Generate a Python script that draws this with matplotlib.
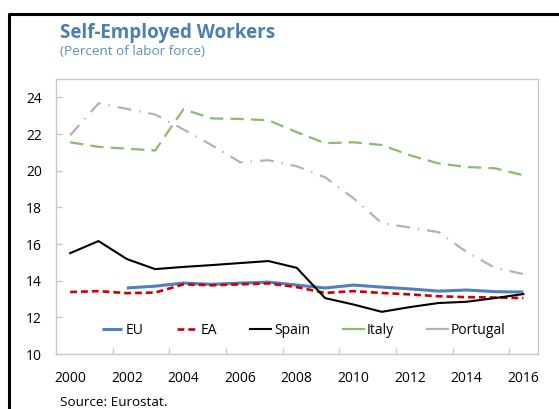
import matplotlib
matplotlib.use("Agg")
import matplotlib.pyplot as plt
from matplotlib.lines import Line2D
import numpy as np

plt.rcParams['font.family'] = ['Open Sans', 'DejaVu Sans']

years = list(range(2000, 2017))
year_labels = [str(y) for y in years[::2]]

eu = [np.nan, np.nan, 13.60, 13.70, 13.87, 13.80, 13.87, 13.92, 13.76, 13.60,
      13.76, 13.65, 13.55, 13.43, 13.49, 13.40, 13.38]
ea = [13.38, 13.43, 13.32, 13.35, 13.80, 13.75, 13.80, 13.85, 13.65, 13.33,
      13.43, 13.33, 13.25, 13.15, 13.10, 13.08, 13.05]
spain = [15.50, 16.16, 15.18, 14.63, 14.75, 14.85, 14.96, 15.07, 14.70, 13.05,
         12.70, 12.30, 12.56, 12.78, 12.85, 13.05, 13.27]
italy = [21.55, 21.30, 21.20, 21.10, 23.35, 22.85, 22.82, 22.75, 22.10, 21.50,
         21.55, 21.40, 20.84, 20.40, 20.20, 20.13, 19.75]
portugal = [21.93, 23.67, 23.37, 23.06, 22.25, 21.39, 20.46, 20.57, 20.24, 19.64,
            18.50, 17.14, 16.90, 16.65, 15.56, 14.70, 14.36]

W, H = 559, 409
fig = plt.figure(figsize=(W / 100, H / 100), dpi=100)
ax = fig.add_axes([56 / W, 1 - 354 / H, (537.5 - 56) / W, (354 - 79) / H])

x = np.arange(len(years))
ax.plot(x, eu, color='#4f81bd', lw=2.2, label='EU', solid_capstyle='butt')
ax.plot(x, ea, color='#cc0000', lw=1.9, dashes=(2.6, 1.5), label='EA')
ax.plot(x, spain, color='black', lw=1.5, label='Spain')
ax.plot(x, italy, color='#8dbb6c', lw=1.6, dashes=(6, 3.2), label='Italy')
ax.plot(x, portugal, color='#b3b3b3', lw=1.6, dashes=(6.2, 3.6, 0.6, 3.6),
        label='Portugal')

ax.set_xlim(-0.5, len(years) - 0.5)
ax.set_ylim(10, 25)
ax.set_yticks(np.arange(10, 25, 2))
ax.set_xticks(x[::2])
ax.set_xticklabels(year_labels)
ax.set_xticks(np.arange(1.5, len(years) - 1, 2), minor=True)

for s in ax.spines.values():
    s.set_color('#c8c8c8')
    s.set_linewidth(1.0)

ax.tick_params(axis='x', which='major', length=0, pad=12, labelsize=10)
ax.tick_params(axis='x', which='minor', direction='in', length=4,
               color='#c8c8c8', width=1)
ax.tick_params(axis='y', direction='in', length=4, color='#c8c8c8', width=1,
               pad=10, labelsize=10)

leg = ax.legend(loc='center', bbox_to_anchor=(0.515, 0.087), ncol=5,
                frameon=False, fontsize=10, handlelength=1.45,
                handletextpad=0.25, columnspacing=2.4)
# legend keys: only the EA key keeps its dashes
for h, name in zip(leg.legend_handles, ['EU', 'EA', 'Spain', 'Italy', 'Portugal']):
    if name != 'EA':
        h.set_linestyle('-')

fig.text(60 / W, 1 - 38 / H, 'Self-Employed Workers', fontsize=13.5,
         fontweight='bold', color='#4a7fb0', va='baseline', ha='left')
fig.text(60 / W, 1 - 55 / H, '(Percent of labor force)', fontsize=9.7,
         color='#5b8fc4', va='baseline', ha='left')
fig.text(60 / W, 1 - 406 / H, 'Source: Eurostat.', fontsize=9.7,
         color='black', va='baseline', ha='left')

# outer panel border (left and top edges)
fig.add_artist(Line2D([8.5 / W, 8.5 / W, 1.0], [0.0, 1 - 14 / H, 1 - 14 / H],
                      transform=fig.transFigure, color='black', lw=2.2))

fig.savefig('out.png', dpi=100)
